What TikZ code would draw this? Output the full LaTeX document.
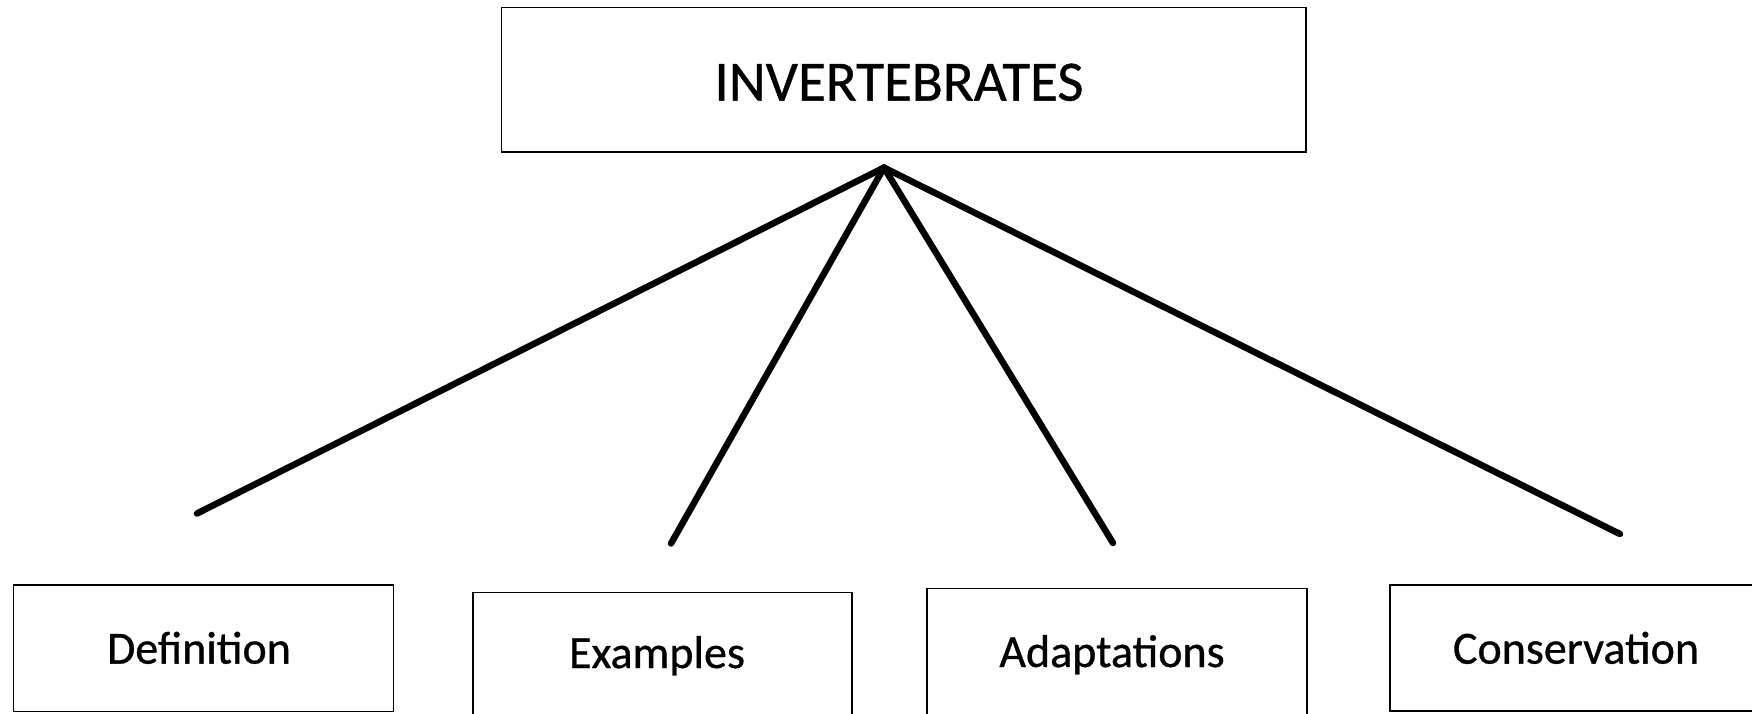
\documentclass[tikz,border=0pt]{standalone}
\usepackage{fontspec}
\setmainfont{Carlito}
\newfontfamily\heavyfont{Carlito}[FakeBold=0.7]
\begin{document}
\begin{tikzpicture}[x=1pt,y=-1pt,
  box/.style={draw=black, line width=1.7pt, inner sep=0pt, anchor=north west},
  toplbl/.style={anchor=base, inner sep=0pt, font=\heavyfont\fontsize{57}{60}\selectfont},
  lbl/.style={anchor=base, inner sep=0pt, font=\heavyfont\fontsize{46}{50}\selectfont},
  conn/.style={line width=6.5pt, line cap=round}]
\useasboundingbox (0,0) rectangle (1752,713);
% boxes
\node[box, minimum width=804.4pt, minimum height=144.1pt] (topbox) at (500.6,6.7) {};
\node[box, minimum width=380pt, minimum height=126.7pt] (defbox) at (12.6,584) {};
\node[box, minimum width=378.9pt, minimum height=133pt] (exbox) at (472.4,591.7) {};
\node[box, minimum width=380pt, minimum height=137pt] (adbox) at (926,587.7) {};
\node[box, minimum width=376pt, minimum height=126.3pt] (conbox) at (1389,584) {};
% labels
\node[toplbl] (toptext) at (899,100.6) {INVERTEBRATES};
\node[lbl] (deftext) at (199,663.6) {Definition};
\node[lbl] (extext) at (657,668) {Examples};
\node[lbl] (adtext) at (1112,667) {Adaptations};
\node[lbl] (context) at (1576,663.6) {Conservation};
% connectors
\coordinate (apex) at (884,167.6);
\coordinate (e1) at (197,513.5);
\coordinate (e2) at (671,543.5);
\coordinate (e3) at (1113,543);
\coordinate (e4) at (1620,534);
\draw[conn] (apex) -- (e1);
\draw[conn] (apex) -- (e2);
\draw[conn] (apex) -- (e3);
\draw[conn] (apex) -- (e4);
\end{tikzpicture}
\end{document}
